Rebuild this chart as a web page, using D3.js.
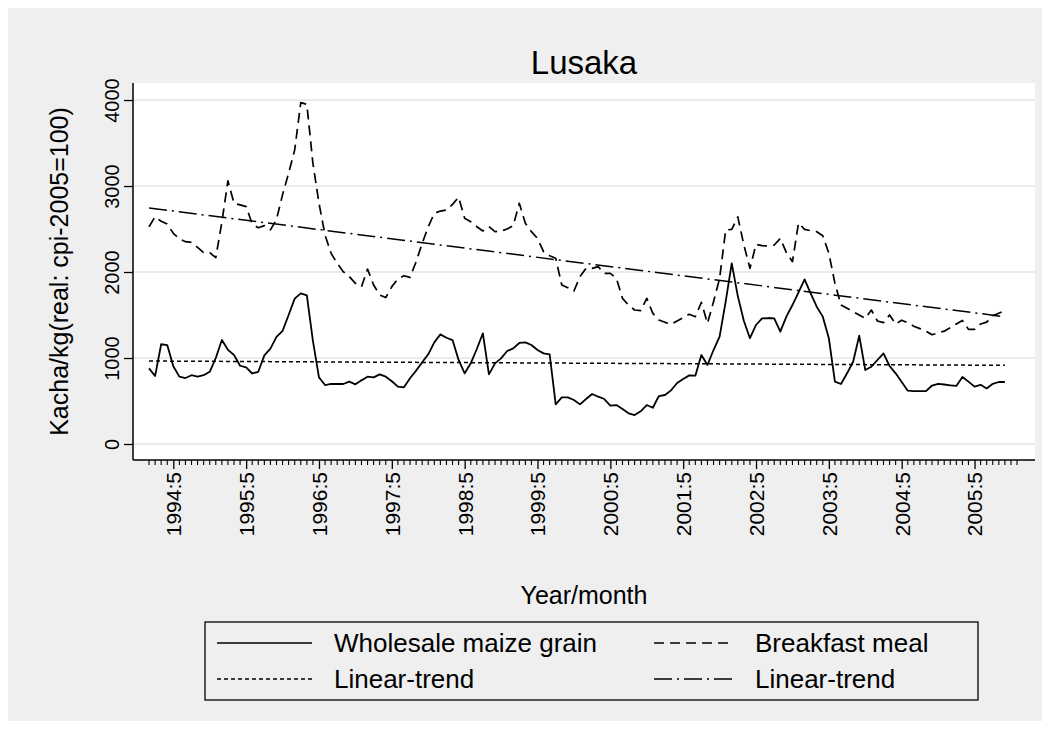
<!DOCTYPE html>
<html>
<head>
<meta charset="utf-8">
<script src="https://cdn.jsdelivr.net/npm/d3@7"></script>
<style>
  body { margin: 0; background: #fff; }
  svg text { font-family: "Liberation Sans", Arial, sans-serif; fill: #000; }
</style>
</head>
<body>
<svg id="chart" width="1050" height="729"></svg>
<script>
// monthly series, 1994:1 .. 2005:10
const startYear = 1994;
const maize = [
  880, 790, 1160, 1150, 905, 783, 767, 800, 783, 800, 840, 1000,
  1210, 1095, 1035, 910, 890, 820, 840, 1030, 1110, 1245, 1315, 1500,
  1690, 1752, 1728, 1200, 775, 686, 698, 698, 698, 725, 694, 740,
  783, 775, 810, 783, 730, 667, 659, 764, 853, 950, 1043, 1182,
  1275, 1236, 1209, 977, 822, 938, 1105, 1287, 810, 938, 996, 1081,
  1112, 1175, 1182, 1151, 1093, 1054, 1043, 460, 543, 543, 512, 461,
  523, 581, 550, 523, 446, 453, 407, 357, 337, 380, 453, 422,
  558, 570, 624, 709, 756, 798, 795, 1035, 919, 1093, 1248, 1655,
  2101, 1720, 1430, 1230, 1384, 1460, 1465, 1461, 1306, 1481, 1616, 1764,
  1915, 1752, 1597, 1481, 1229, 725, 698, 822, 957, 1260, 860, 899,
  977, 1054, 907, 822, 720, 620, 615, 615, 615, 680, 700, 692,
  683, 675, 779, 725, 667, 688, 646, 700, 721, 721
];
const breakfast = [
  2527, 2643, 2590, 2558, 2450, 2384, 2353, 2345, 2287, 2225, 2225, 2167,
  2580, 3060, 2800, 2780, 2760, 2560, 2515, 2540, 2490, 2610, 2900, 3150,
  3420, 3970, 3950, 3264, 2800, 2430, 2217, 2101, 2004, 1946, 1868, 1829,
  2035, 1849, 1733, 1703, 1830, 1919, 1957, 1938, 2120, 2333, 2527, 2682,
  2709, 2721, 2787, 2870, 2624, 2585, 2527, 2477, 2527, 2469, 2477, 2500,
  2539, 2800, 2566, 2469, 2391, 2236, 2190, 2159, 1849, 1818, 1779, 1946,
  2043, 2043, 2062, 1984, 1984, 1926, 1694, 1616, 1558, 1550, 1694, 1519,
  1442, 1415, 1391, 1430, 1469, 1508, 1480, 1647, 1403, 1655, 1926, 2488,
  2496, 2640, 2314, 2043, 2322, 2306, 2302, 2314, 2391, 2225, 2120, 2570,
  2496, 2481, 2469, 2422, 2217, 1868, 1616, 1578, 1539, 1500, 1461, 1558,
  1430, 1411, 1500, 1395, 1440, 1410, 1370, 1342, 1312, 1271, 1292, 1312,
  1354, 1396, 1437, 1333, 1333, 1396, 1417, 1492, 1521, 1550
];
// linear trends, value at first and last month
const maizeTrend = [965, 915];
const breakfastTrend = [2745, 1480];

const yTicks = [0, 1000, 2000, 3000, 4000];
const xTickLabels = ["1994:5", "1995:5", "1996:5", "1997:5", "1998:5", "1999:5",
  "2000:5", "2001:5", "2002:5", "2003:5", "2004:5", "2005:5"];
const legendItems = [
  { label: "Wholesale maize grain", dash: null },
  { label: "Breakfast meal", dash: "10,6" },
  { label: "Linear-trend", dash: "4,3" },
  { label: "Linear-trend", dash: "18,5,2,5" }
];

// month index -> label "yyyy:m"
function monthLabel(i) {
  return (startYear + Math.floor(i / 12)) + ":" + ((i % 12) + 1);
}

const svg = d3.select("#chart");
const W = 1050, H = 729;
const plot = { left: 133, right: 1035, top: 83, bottom: 460 };

svg.append("rect").attr("width", W).attr("height", H).attr("fill", "#fff");
svg.append("rect")
  .attr("x", 8).attr("y", 8)
  .attr("width", W - 16).attr("height", H - 16)
  .attr("fill", "#efefef");
svg.append("rect")
  .attr("x", plot.left).attr("y", plot.top)
  .attr("width", plot.right - plot.left).attr("height", plot.bottom - plot.top)
  .attr("fill", "#fff");

var x = d3.scaleLinear().domain([-2.64, 145.96]).range([plot.left, plot.right]);
var y = d3.scaleLinear().domain([-186, 4198]).range([plot.bottom, plot.top]);

// gridlines
svg.append("g")
  .selectAll("line")
  .data(yTicks)
  .enter()
  .append("line")
  .attr("x1", plot.left).attr("x2", plot.right)
  .attr("y1", (d) => y(d)).attr("y2", (d) => y(d))
  .attr("stroke", "#e4e4e4")
  .attr("stroke-width", 1.6);

// y axis
var yAxis = d3.axisLeft(y).tickValues(yTicks).tickSize(9).tickSizeOuter(0)
  .tickFormat(d3.format("d"));
var gy = svg.append("g")
  .attr("transform", "translate(" + plot.left + ",0)")
  .call(yAxis);
gy.select(".domain").attr("stroke", "#000").attr("stroke-width", 1.5)
  .attr("d", "M0," + plot.top + "V" + plot.bottom);
gy.selectAll(".tick line").attr("stroke", "#000").attr("stroke-width", 1.3);
gy.selectAll(".tick text")
  .attr("font-size", 20)
  .attr("x", 0).attr("dy", 0)
  .attr("text-anchor", "middle")
  .attr("transform", "translate(-14,0) rotate(-90)")
  .attr("y", 0);

// x axis: monthly minor ticks, major at month 5
var months = d3.range(0, 144);
var majors = months.filter((m) => xTickLabels.includes(monthLabel(m)));
var xAxis = d3.axisBottom(x)
  .tickValues(majors)
  .tickSize(9)
  .tickSizeOuter(0)
  .tickFormat(monthLabel);
var gx = svg.append("g")
  .attr("transform", "translate(0," + plot.bottom + ")")
  .call(xAxis);
gx.select(".domain").attr("stroke", "#000").attr("stroke-width", 1.5)
  .attr("d", "M" + plot.left + ",0H" + plot.right);
gx.selectAll(".tick line").attr("stroke", "#000").attr("stroke-width", 1.3);
gx.selectAll(".tick text")
  .attr("font-size", 21)
  .attr("text-anchor", "end")
  .attr("transform", "translate(0,12) rotate(-90)")
  .attr("x", 0).attr("y", 0).attr("dy", "0.35em");

gx.append("g")
  .selectAll("line")
  .data(months.filter((m) => !majors.includes(m)))
  .enter()
  .append("line")
  .attr("x1", (d) => x(d)).attr("x2", (d) => x(d))
  .attr("y1", 0).attr("y2", 5)
  .attr("stroke", "#000")
  .attr("stroke-width", 1.1);

// axis titles and title
svg.append("text")
  .attr("transform", "translate(68," + (plot.top + plot.bottom) / 2 + ") rotate(-90)")
  .attr("text-anchor", "middle")
  .attr("font-size", 25)
  .text("Kacha/kg(real: cpi-2005=100)");

svg.append("text")
  .attr("x", (plot.left + plot.right) / 2).attr("y", 604)
  .attr("text-anchor", "middle")
  .attr("font-size", 25)
  .text("Year/month");

svg.append("text")
  .attr("x", (plot.left + plot.right) / 2).attr("y", 74)
  .attr("text-anchor", "middle")
  .attr("font-size", 33)
  .text("Lusaka");

// series
var line = d3.line()
  .x((d, i) => x(i))
  .y((d) => y(d));

var lastIdx = maize.length - 1;
var trendLine = d3.line()
  .x((d, i) => x(i * lastIdx))
  .y((d) => y(d));

var g = svg.append("g").attr("fill", "none").attr("stroke", "#000");

g.append("path").attr("d", trendLine(maizeTrend))
  .attr("stroke-width", 1.5).attr("stroke-dasharray", legendItems[2].dash);
g.append("path").attr("d", trendLine(breakfastTrend))
  .attr("stroke-width", 1.5).attr("stroke-dasharray", legendItems[3].dash);
g.append("path").attr("d", line(breakfast))
  .attr("stroke-width", 1.7).attr("stroke-dasharray", legendItems[1].dash)
  .attr("stroke-linejoin", "round");
g.append("path").attr("d", line(maize))
  .attr("stroke-width", 1.8)
  .attr("stroke-linejoin", "round");

// legend
var leg = svg.append("g");
leg.append("rect")
  .attr("x", 205).attr("y", 622)
  .attr("width", 773).attr("height", 78)
  .attr("fill", "none")
  .attr("stroke", "#000")
  .attr("stroke-width", 1.3);

var cols = [{ key: 217, text: 334 }, { key: 654, text: 755 }];
var rows = [643, 679];
legendItems.forEach(function (item, i) {
  var c = cols[i % 2];
  var cy = rows[Math.floor(i / 2)];
  leg.append("line")
    .attr("x1", c.key).attr("x2", c.text - 22)
    .attr("y1", cy).attr("y2", cy)
    .attr("stroke", "#000")
    .attr("stroke-width", 1.5)
    .attr("stroke-dasharray", item.dash);
  leg.append("text")
    .attr("x", c.text)
    .attr("y", cy)
    .attr("dy", "0.35em")
    .attr("font-size", 26)
    .text(item.label);
});
</script>
</body>
</html>
